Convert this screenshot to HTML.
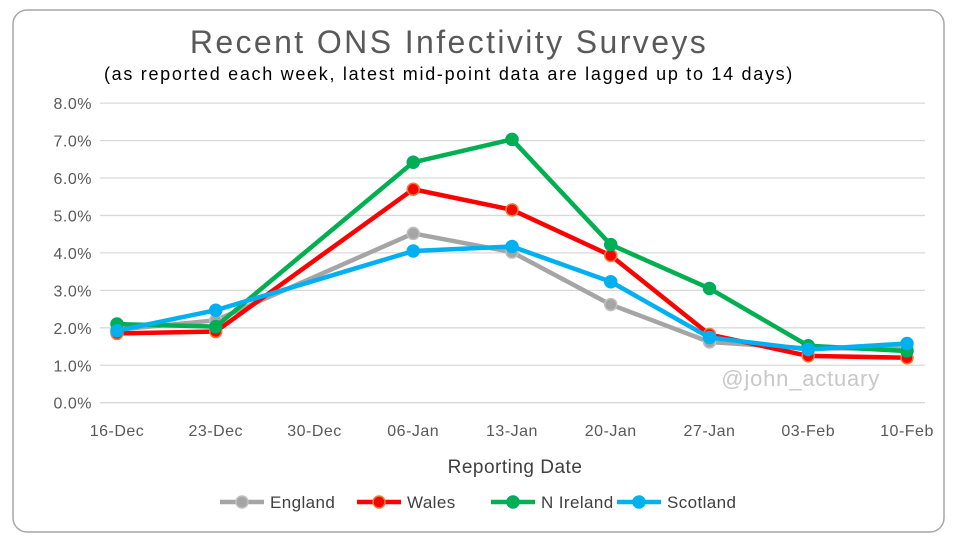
<!DOCTYPE html>
<html><head><meta charset="utf-8"><style>
body{margin:0;background:#fff;font-family:"Liberation Sans",sans-serif}
</style></head><body>
<svg id="chart" width="956" height="544" xmlns="http://www.w3.org/2000/svg" font-family="Liberation Sans, sans-serif">
<rect x="13" y="10" width="931" height="522" rx="14" fill="#fff" stroke="#a6a6a6" stroke-width="1.5"/>
<text x="449" y="53" text-anchor="middle" font-size="32" letter-spacing="2.4" fill="#595959">Recent ONS Infectivity Surveys</text>
<text x="449" y="80" text-anchor="middle" font-size="18" letter-spacing="1.7" fill="#000">(as reported each week, latest mid-point data are lagged up to 14 days)</text>
<g id="grid"></g><g id="series"></g>
<text x="880" y="386" text-anchor="end" font-size="22" letter-spacing="0.8" fill="#c8c8c8">@john_actuary</text>
<text x="515" y="473" text-anchor="middle" font-size="19" letter-spacing="0.5" fill="#404040">Reporting Date</text>
<g id="legend"></g>
</svg>
<script>
const categories=["16-Dec","23-Dec","30-Dec","06-Jan","13-Jan","20-Jan","27-Jan","03-Feb","10-Feb"];
const yTicks=[0,1,2,3,4,5,6,7,8];
const england=[1.95,2.2,null,4.52,4.02,2.62,1.62,1.45,1.45];
const wales=[1.85,1.9,null,5.7,5.15,3.93,1.82,1.25,1.2];
const nireland=[2.1,2.03,null,6.42,7.03,4.22,3.05,1.52,1.38];
const scotland=[1.92,2.47,null,4.05,4.17,3.23,1.74,1.42,1.58];
const ns="http://www.w3.org/2000/svg";
const X=i=>117+i*98.75, Y=v=>402.7-v*37.45;
function mk(t,a,p){const e=document.createElementNS(ns,t);for(const k in a)e.setAttribute(k,a[k]);p.appendChild(e);return e;}
const grid=document.getElementById('grid');
yTicks.forEach(t=>{
 const l=mk('line',{x1:100,x2:925,y1:Y(t),y2:Y(t),stroke:'#d9d9d9','stroke-width':1.3},grid);
 
 
 const tx=mk('text',{x:92,y:Y(t)+6,'text-anchor':'end','font-size':16,'letter-spacing':0.5,fill:'#595959'},grid);
 tx.textContent=t.toFixed(1)+'%';
 
 
});
categories.forEach((c,i)=>{
 const tx=mk('text',{x:X(i),y:436,'text-anchor':'middle','font-size':16,'letter-spacing':0.5,fill:'#595959'},grid);
 tx.textContent=c;
 
 
});
const series=[["England",england,"#a5a5a5","#bfbfbf"],["Wales",wales,"#ff0000","#ed7d31"],["N Ireland",nireland,"#00b050","#00a86b"],["Scotland",scotland,"#00b0f0","#00b0f0"]];
const sg=document.getElementById('series');
series.forEach(([n,d,c,s])=>{
 const g=mk('g',{},sg);
 
 
 const pts=[];d.forEach((v,i)=>{if(v!=null)pts.push(X(i)+','+Y(v));});
 mk('polyline',{points:pts.join(' '),fill:'none',stroke:c,'stroke-width':4.5,'stroke-linejoin':'round'},g);
 d.forEach((v,i)=>{if(v==null)return;
  const p=mk('circle',{cx:X(i),cy:Y(v),r:6,fill:c,stroke:s,'stroke-width':1.5},g);
  
  
 });
});
const lg=document.getElementById('legend');
const lx=[220,357,491,617];
series.forEach(([n,d,c,s],k)=>{
 const g=mk('g',{},lg);
 
 
 mk('line',{x1:lx[k],x2:lx[k]+44,y1:502,y2:502,stroke:c,'stroke-width':4.5},g);
 mk('circle',{cx:lx[k]+22,cy:502,r:6,fill:c,stroke:s,'stroke-width':1.5},g);
 const t=mk('text',{x:lx[k]+50,y:508,'font-size':17,'letter-spacing':0.4,fill:'#404040'},g);t.textContent=n;
});
</script>
</body></html>
